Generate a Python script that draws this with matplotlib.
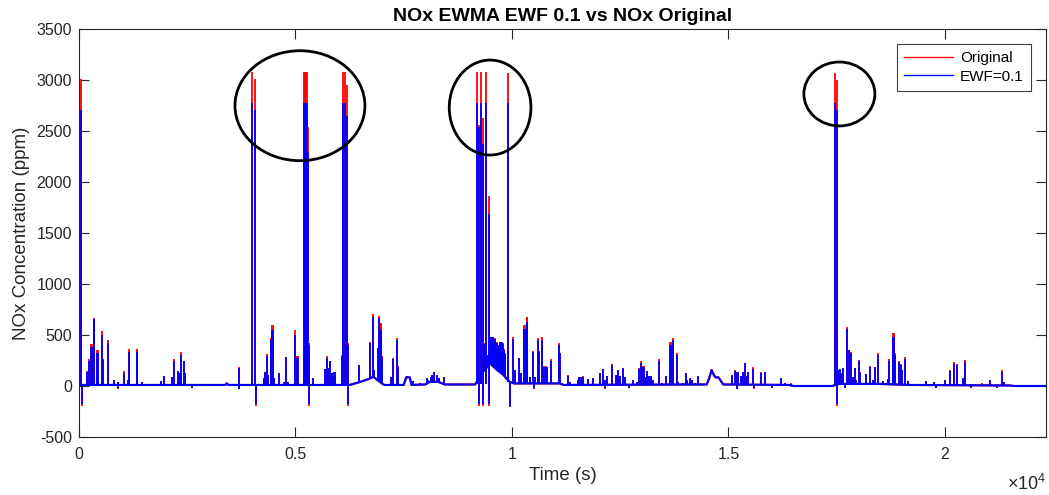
import numpy as np
import matplotlib
matplotlib.use("Agg")
import matplotlib.pyplot as plt
from matplotlib.patches import Ellipse

plt.rcParams['font.family'] = ['Liberation Sans', 'DejaVu Sans']
plt.rcParams['mathtext.fontset'] = 'custom'
plt.rcParams['mathtext.rm'] = 'Liberation Sans'
plt.rcParams['axes.unicode_minus'] = False

# slow baseline level of the NOx signal: (time s, ppm)
baseline = [
    (0, 10), (3000, 10), (3380, 10), (3411, 26), (3450, 10), (3900, 10),
    (6250, 10), (6500, 40), (6700, 70), (6800, 90), (6950, 40), (7050, 10),
    (7500, 10), (7560, 85), (7640, 85), (7680, 10), (8000, 15), (8100, 40),
    (8300, 40), (8450, 15), (9150, 15), (9350, 150), (9500, 220), (9650, 160),
    (9800, 110), (9880, 70), (9950, 40), (10050, 25), (11100, 25), (11200, 10),
    (14500, 15), (14560, 80), (14612, 157), (14660, 110), (14700, 85),
    (14770, 85), (14880, 15), (16400, 10), (16500, 0), (17400, 0),
    (17550, 20), (18500, 20), (19200, 10), (21500, 5), (21600, 0), (22333, 0),
]

# saturated peaks: (time, foot, original, EWF=0.1)
tall_spikes = [
    (5, 10, 3070, 3070), (55, 10, 3010, 2710),
    (3990, 10, 3080, 2770), (4060, 10, 3010, 2710),
    (5200, 10, 3080, 2770), (5225, 10, 3080, 2770), (5250, 10, 3080, 2770),
    (5270, 10, 3080, 2770), (5300, 10, 2540, 2290),
    (6100, 10, 3080, 2770), (6150, 10, 3080, 2770), (6200, 10, 2950, 2650),
    (9185, 20, 3080, 2770), (9238, 20, 2560, 2540), (9277, 20, 3080, 2770),
    (9337, 20, 2630, 2370), (9407, 20, 3080, 2770), (9462, 20, 1860, 1690),
    (9908, 40, 3070, 2770),
    (17460, 0, 3070, 2770), (17500, 0, 3000, 2710),
]

# negative excursions: (time, foot, original, EWF=0.1)
dips = [
    (62, 10, -200, -175), (4080, 10, -200, -175), (5312, 10, -200, -175),
    (6206, 10, -200, -175), (9245, 20, -200, -175), (9337, 20, -200, -175),
    (9469, 20, -200, -175), (9954, 40, -190, -205), (17500, 0, -200, -175),
    (900, 10, -25, -22), (2600, 10, -20, -18), (3700, 10, -30, -28),
    (10500, 25, -25, -22), (12150, 10, -25, -22), (12700, 10, -20, -18),
    (15200, 10, -30, -28), (15600, 10, -25, -22), (16000, 10, -20, -18),
    (17700, 20, -20, -18), (19800, 10, -20, -18), (20600, 10, -20, -18),
    (21200, 10, -20, -18),
]

# smaller peaks: (time, foot, original, EWF=0.1)
small_spikes = [
    (185, 10, 145, 140), (224, 10, 262, 248), (280, 10, 412, 386),
    (300, 10, 412, 386), (340, 10, 663, 654), (355, 10, 663, 654),
    (415, 10, 353, 327), (430, 10, 353, 327), (446, 10, 175, 173),
    (531, 10, 539, 500), (554, 10, 265, 262), (670, 10, 451, 418),
    (816, 10, 60, 59), (908, 10, 40, 39), (1047, 10, 147, 131),
    (1139, 10, 60, 59), (1162, 10, 363, 337), (1330, 10, 363, 337),
    (1350, 10, 363, 337), (1447, 10, 40, 39), (1894, 10, 53, 52),
    (1971, 10, 100, 98), (2155, 10, 86, 85), (2187, 10, 265, 245),
    (2294, 10, 150, 147), (2325, 10, 126, 124), (2367, 10, 333, 304),
    (2417, 10, 248, 245), (2448, 10, 126, 124), (3688, 10, 190, 175),
    (4280, 10, 76, 75), (4303, 10, 142, 140), (4335, 10, 310, 294),
    (4366, 10, 110, 108), (4427, 10, 467, 451), (4465, 10, 598, 549),
    (4480, 10, 598, 549), (4510, 10, 76, 75), (4619, 10, 126, 124),
    (4735, 10, 40, 39), (4781, 10, 284, 281), (4835, 10, 40, 39),
    (4997, 10, 549, 500), (5040, 10, 294, 271), (5055, 10, 294, 271),
    (5320, 10, 420, 400), (5397, 10, 76, 75), (5682, 10, 165, 163),
    (5723, 10, 294, 271), (5759, 10, 175, 173), (5790, 10, 248, 245),
    (5836, 10, 126, 124), (5883, 10, 142, 140), (5913, 10, 142, 140),
    (6067, 10, 304, 288), (6220, 10, 420, 400), (6467, 35, 208, 206),
    (6728, 70, 435, 418), (6783, 85, 706, 680), (6822, 85, 160, 157),
    (6899, 60, 372, 369), (6930, 50, 690, 663), (6970, 40, 614, 549),
    (6985, 40, 614, 549), (7006, 30, 290, 288), (7206, 10, 86, 85),
    (7245, 10, 278, 265), (7337, 10, 467, 451), (7375, 10, 192, 190),
    (7568, 85, 100, 98), (7720, 10, 53, 52), (7875, 10, 27, 26),
    (8030, 20, 76, 75), (8067, 30, 60, 59), (8128, 40, 86, 85),
    (8159, 40, 110, 108), (8206, 40, 142, 140), (8260, 40, 110, 108),
    (8314, 40, 76, 75), (8436, 15, 86, 85),
    (9361, 150, 418, 410), (9392, 160, 435, 430), (9454, 200, 304, 300),
    (9492, 210, 484, 478), (9510, 215, 430, 425), (9530, 210, 484, 478),
    (9550, 205, 470, 465), (9569, 200, 484, 478), (9590, 190, 450, 445),
    (9607, 180, 467, 460), (9625, 170, 400, 395), (9646, 160, 369, 365),
    (9665, 150, 430, 425), (9684, 145, 402, 398), (9700, 140, 380, 375),
    (9723, 130, 435, 430), (9740, 125, 420, 415), (9761, 120, 435, 430),
    (9780, 115, 400, 395), (9800, 110, 418, 412), (9820, 100, 360, 355),
    (9838, 90, 320, 315),
    (10019, 25, 484, 458), (10071, 25, 160, 157), (10170, 25, 274, 271),
    (10210, 25, 126, 124), (10290, 25, 598, 556), (10310, 25, 598, 556),
    (10340, 25, 673, 631), (10355, 25, 673, 631), (10420, 25, 93, 92),
    (10487, 25, 340, 337), (10530, 25, 86, 85), (10597, 25, 467, 451),
    (10625, 25, 340, 337), (10693, 25, 477, 451), (10748, 25, 192, 190),
    (10779, 25, 192, 190), (10817, 25, 185, 183), (10909, 25, 261, 245),
    (11086, 25, 418, 398), (11110, 25, 322, 320),
    (11294, 10, 108, 98), (11340, 10, 43, 42), (11517, 10, 60, 59),
    (11560, 10, 86, 85), (11600, 10, 86, 85), (11640, 10, 101, 92),
    (11764, 10, 66, 65), (11863, 10, 76, 75), (12040, 10, 126, 124),
    (12094, 10, 165, 163), (12148, 10, 60, 59), (12194, 10, 100, 98),
    (12302, 10, 216, 203), (12410, 10, 110, 108), (12456, 10, 160, 157),
    (12487, 10, 100, 98), (12571, 10, 175, 173), (12602, 10, 93, 92),
    (12802, 10, 60, 59), (12880, 10, 43, 42), (12940, 10, 172, 170),
    (12975, 10, 248, 229), (13010, 10, 196, 183), (13040, 10, 196, 183),
    (13087, 10, 86, 85), (13126, 10, 150, 147), (13160, 10, 100, 98),
    (13210, 10, 100, 98), (13265, 10, 60, 59), (13395, 10, 261, 248),
    (13460, 10, 27, 26), (13565, 10, 100, 98), (13655, 10, 435, 402),
    (13675, 10, 435, 402), (13714, 10, 467, 451), (13804, 10, 320, 304),
    (13840, 10, 43, 42), (13960, 10, 34, 33), (14011, 10, 126, 124),
    (14050, 10, 60, 59), (14114, 10, 76, 75), (14164, 10, 60, 59),
    (14226, 10, 27, 26), (14289, 10, 100, 98),
    (15073, 10, 110, 108), (15150, 10, 152, 150), (15189, 10, 142, 140),
    (15227, 10, 142, 140), (15288, 10, 100, 98), (15342, 10, 142, 140),
    (15381, 10, 224, 222), (15427, 10, 100, 98), (15458, 10, 142, 140),
    (15558, 10, 183, 167), (15743, 10, 133, 131), (15846, 10, 142, 140),
    (15950, 10, 21, 20), (16205, 10, 76, 75), (16300, 10, 30, 28),
    (16450, 10, 25, 24),
    (17536, 20, 160, 157), (17574, 20, 165, 163), (17612, 20, 126, 124),
    (17651, 20, 175, 173), (17733, 20, 575, 556), (17775, 20, 355, 353),
    (17837, 20, 337, 320), (17880, 20, 93, 92), (17918, 20, 175, 173),
    (17958, 20, 60, 59), (18008, 20, 255, 245), (18050, 20, 133, 131),
    (18176, 20, 120, 118), (18268, 20, 192, 190), (18330, 20, 60, 59),
    (18384, 20, 185, 183), (18453, 20, 320, 300),
    (18576, 15, 53, 52), (18690, 15, 66, 65), (18714, 15, 261, 248),
    (18810, 15, 516, 477), (18830, 15, 516, 477), (18846, 15, 320, 300),
    (18938, 15, 248, 235), (18991, 15, 216, 203), (19020, 15, 160, 157),
    (19069, 15, 281, 268), (19138, 10, 50, 49), (19561, 10, 53, 52),
    (19754, 10, 43, 42), (19999, 10, 60, 59), (20111, 10, 157, 144),
    (20200, 10, 232, 219), (20273, 10, 216, 203), (20422, 10, 76, 75),
    (20470, 10, 255, 239), (20700, 10, 20, 18), (20850, 10, 25, 24),
    (21040, 10, 60, 59), (21310, 10, 157, 141), (21360, 10, 40, 38),
]

# circled saturation regions: (centre time, centre ppm, width s, height ppm)
circles = [(5104, 2748, 3002, 1078), (9496, 2730, 1887, 931), (17564, 2863, 1640, 627)]

base_t, base_v = np.array(baseline).T
spikes = np.array(tall_spikes + small_spikes + dips)
sp_t, sp_foot, sp_orig, sp_ewf = spikes.T

fig = plt.figure(figsize=(10.49, 4.95), dpi=100)
ax = fig.add_axes([0.0753, 0.1172, 0.9217, 0.8242])

line_orig, = ax.plot(base_t, base_v, color='red', lw=1.5, label='Original')
ax.vlines(sp_t, sp_foot, sp_orig, color='red', lw=1.3)
line_ewf, = ax.plot(base_t, base_v, color='blue', lw=1.5, label='EWF=0.1')
ax.vlines(sp_t, sp_foot, sp_ewf, color='blue', lw=1.3)

for cx, cy, w, h in circles:
    ax.add_patch(Ellipse((cx, cy), w, h, fill=False, ec='black', lw=2.0, zorder=5))

ax.set_xlim(0, 22333)
ax.set_ylim(-500, 3500)
ax.set_yticks(np.arange(-500, 3501, 500))
ax.set_xticks([0, 5000, 10000, 15000, 20000], ['0', '0.5', '1', '1.5', '2'])
ax.tick_params(direction='in', top=True, right=True, length=7, width=0.8,
               labelsize=11.5, colors='#262626')
ax.tick_params(axis='x', pad=7)
ax.tick_params(axis='y', pad=5)
for s in ax.spines.values():
    s.set_color('#262626')
    s.set_linewidth(0.8)

ax.text(1.0, -0.115, r'$\times\mathregular{10^{4}}$', transform=ax.transAxes,
        ha='right', va='center', fontsize=13, color='#262626')
ax.set_xlabel('Time (s)', fontsize=13.5, color='#262626', labelpad=4)
ax.set_ylabel('NOx Concentration (ppm)', fontsize=13.5, color='#262626', labelpad=5)
ax.set_title('NOx EWMA EWF 0.1 vs NOx Original', fontsize=14, fontweight='bold', pad=6)

leg = ax.legend(handles=[line_orig, line_ewf], loc='upper right', fontsize=11,
                fancybox=False, framealpha=1, edgecolor='#404040',
                handlelength=3.2, handletextpad=0.45, labelspacing=0.3,
                borderpad=0.45, borderaxespad=1.0)
leg.get_frame().set_linewidth(0.8)
for h in leg.get_lines():
    h.set_linewidth(1.0)

fig.savefig('out.png', dpi=100)
